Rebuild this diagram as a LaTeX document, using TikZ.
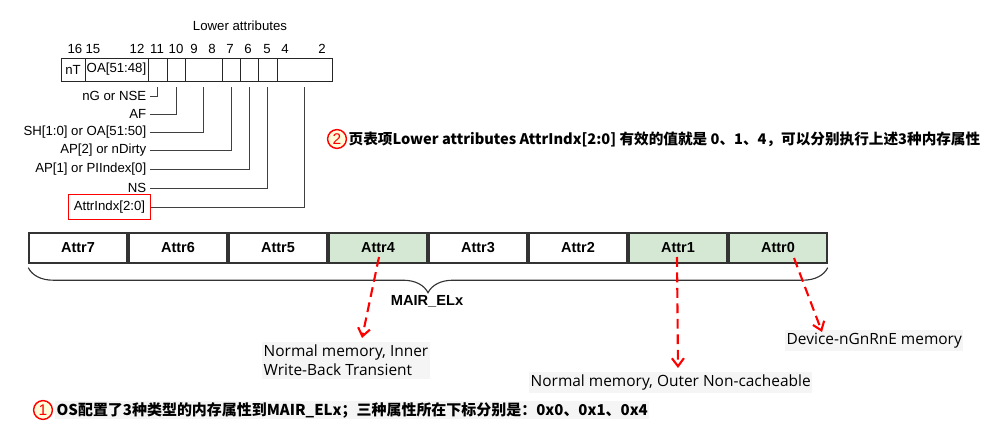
\documentclass[tikz,border=0pt]{standalone}
\usepackage{fontspec}
\setmainfont{Liberation Sans}
\newfontfamily\memfont{Open Sans}
\newfontfamily\cjk{Noto Sans CJK SC}
\usepackage{xcolor}
\usetikzlibrary{arrows.meta}
\usetikzlibrary{calc}
\usetikzlibrary{decorations.pathreplacing}
\definecolor{attrgreen}{HTML}{D5E8D4}
\definecolor{memgray}{HTML}{F5F5F5}
\definecolor{tipred}{HTML}{FF0000}
\tikzset{
  regfield/.style={draw=black!85, line width=0.7pt, minimum height=0.575cm, inner sep=0pt, outer sep=0pt, font=\fontsize{9.4}{11}\selectfont},
  reglabel/.style={anchor=east, inner xsep=2.5pt, inner ysep=1pt, font=\fontsize{9.4}{11}\selectfont},
  attrbox/.style={draw=black!80, line width=1pt, minimum width=2.45cm, minimum height=0.75cm, inner sep=0pt, font=\fontsize{10.3}{12}\selectfont\bfseries},
  memlabel/.style={fill=memgray, anchor=north west, align=left, inner xsep=1pt, inner ysep=2pt, font=\memfont\fontsize{11}{13.5}\selectfont},
  redarrow/.style={draw=tipred, line width=1.5pt, dash pattern=on 7pt off 4pt, -{Straight Barb[length=2mm,width=3mm]}},
  numcircle/.style={circle, draw=tipred, fill=yellow!15, text=tipred, line width=1pt, minimum size=0.47cm, inner sep=0pt, font=\fontsize{11}{12}\selectfont},
  note/.style={anchor=west, inner sep=1pt, font=\cjk\bfseries\fontsize{10.4}{12}\selectfont},
}
\begin{document}
\begin{tikzpicture}[x=0.025cm, y=-0.025cm]
\useasboundingbox[fill=white] (0,0) rectangle (999,446);
\node[font=\fontsize{9.4}{11}\selectfont] (lower) at (240,26) {Lower attributes};
\foreach \x/\b in {75/16,93/15,137/12,157/11,176/10,194/9,212/8,230/7,248/6,267/5,285/4,322/2}{
    \node[font=\fontsize{9.4}{11}\selectfont] (bit\b) at (\x,49) {\b};
}
\foreach \n/\a/\b/\t in {nT/61/85/nT,oa/85/148/{OA[51:48]},f11/148/167/{},f10/167/185/{},f98/185/222/{},f7/222/240/{},f6/240/258/{},f5/258/277/{},f42/277/332/{}}{
    \node[regfield, minimum width=(\b-\a)*0.025cm] (\n) at ({(\a+\b)/2},69.5) {\t};
}
\foreach \l/\y/\f/\t in {lng/96/f11/{nG or NSE},laf/114/f10/{AF},lsh/132/f98/{SH[1:0] or OA[51:50]},lapt/150/f7/{AP[2] or nDirty},lapo/169/f6/{AP[1] or PIIndex[0]},lns/188/f5/{NS}}{
    \node[reglabel] (\l) at (150,\y) {\t};
    \draw[black!75, shorten >=4.3pt] (\l.east) -| (\f.south);
}
\node[reglabel, draw=tipred, inner xsep=4pt, minimum height=0.625cm] (lidx) at (151,207) {AttrIndx[2:0]};
\draw[black!75, shorten >=4.3pt] (lidx.east) -| (f42.south);

\foreach \i/\c in {7/white,6/white,5/white,4/attrgreen,3/white,2/white,1/attrgreen,0/attrgreen}{
    \node[attrbox, fill=\c] (a\i) at ({78+(7-\i)*100},248) {Attr\i};
}
\draw[black!80, line width=0.8pt, decorate, decoration={brace, mirror, amplitude=0.625cm}] ($(a7.south west)+(0,4)$) -- ($(a0.south east)+(0,4)$);
\node[font=\fontsize{10.4}{12}\selectfont\bfseries] (mair) at (427,301) {MAIR\_ELx};

\node[memlabel] (m4) at (262,342) {Normal memory, Inner\\Write-Back Transient};
\node[memlabel] (m1) at (529,372) {Normal memory, Outer Non-cacheable};
\node[memlabel] (m0) at (785,330) {Device-nGnRnE memory};
\draw[redarrow] ($(a4.center)+(1,9)$) -- ($(m4.north west)+(100,-4)$);
\draw[redarrow] ($(a1.center)+(-1,9)$) -- ($(m1.north west)+(149,-4)$);
\draw[redarrow] ($(a0.center)+(16,10)$) -- ($(m0.north west)+(37,2)$);

\node[numcircle] (c2) at (337,139) {2};
\node[note] (n2) at (347,139) {页表项Lower attributes AttrIndx[2:0] 有效的值就是 0、1、4，可以分别执行上述3种内存属性};
\node[numcircle] (c1) at (43,410) {1};
\node[note, fill=memgray, font=\cjk\bfseries\fontsize{10.65}{12}\selectfont] (n1) at (55,410) {OS配置了3种类型的内存属性到MAIR\_ELx；三种属性所在下标分别是：0x0、0x1、0x4};
\end{tikzpicture}
\end{document}
